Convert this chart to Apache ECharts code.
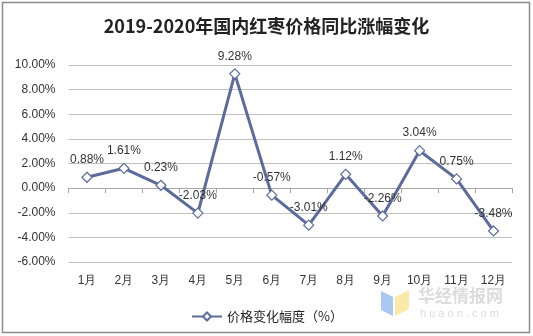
<!DOCTYPE html>
<html>
<head>
<meta charset="utf-8">
<script src="https://cdn.jsdelivr.net/npm/echarts@6/dist/echarts.min.js"></script>
<style>
  html, body { margin: 0; padding: 0; background: #fff; }
  #chart { width: 533px; height: 336px; }
</style>
</head>
<body>
<div id="chart"></div>
<script>
// Monthly year-on-year change of domestic jujube prices, 2019-2020 (%)
const months = ['1月', '2月', '3月', '4月', '5月', '6月', '7月', '8月', '9月', '10月', '11月', '12月'];
const priceChange = [0.88, 1.61, 0.23, -2.03, 9.28, -0.57, -3.01, 1.12, -2.26, 3.04, 0.75, -3.48];
const seriesName = '价格变化幅度（%）';
const titleText = '2019-2020年国内红枣价格同比涨幅变化';

const lineColor = '#5C6B9C';
const chart = echarts.init(document.getElementById('chart'), null, { renderer: 'canvas' });

chart.setOption({
  animation: false,
  backgroundColor: '#fff',
  title: {
    text: titleText,
    left: 'center',
    top: 12,
    textStyle: {
      fontFamily: '"Noto Sans CJK SC", sans-serif',
      fontSize: 18,
      fontWeight: 'bold',
      color: '#222'
    }
  },
  grid: { left: 68.5, right: 21, top: 65, bottom: 74 },
  legend: {
    left: 186,
    top: 305,
    itemWidth: 30,
    itemHeight: 10,
    itemGap: 4,
    textStyle: { fontFamily: '"Noto Sans CJK SC", sans-serif', fontSize: 13, color: '#222' },
    data: [seriesName]
  },
  xAxis: [
    {
      // category labels along the bottom edge
      type: 'category',
      data: months,
      position: 'bottom',
      axisLine: { show: false, onZero: false },
      axisTick: { show: false },
      axisLabel: { margin: 13, fontFamily: 'Liberation Sans, Arial, sans-serif', fontSize: 12, color: '#333' }
    },
    {
      // baseline with tick marks at the zero level
      type: 'category',
      data: months,
      position: 'bottom',
      axisLine: { show: true, onZero: true, lineStyle: { color: '#A6A6A6', width: 1 } },
      axisTick: { show: true, length: 5, lineStyle: { color: '#A6A6A6' } },
      axisLabel: { show: false }
    }
  ],
  yAxis: {
    type: 'value',
    min: -6,
    max: 10,
    interval: 2,
    axisLine: { show: false },
    axisTick: { show: false },
    splitLine: { lineStyle: { color: '#BFBFBF', width: 1 } },
    axisLabel: {
      margin: 13,
      fontFamily: 'Liberation Sans, Arial, sans-serif',
      fontSize: 12,
      color: '#333',
      formatter: v => v.toFixed(2) + '%'
    }
  },
  series: [{
    name: seriesName,
    type: 'line',
    xAxisIndex: 0,
    data: priceChange,
    symbol: 'diamond',
    symbolSize: 10,
    lineStyle: { color: lineColor, width: 3 },
    itemStyle: { color: '#fff', borderColor: lineColor, borderWidth: 1.2 },
    label: {
      show: true,
      position: 'top',
      distance: 6,
      fontFamily: 'Liberation Sans, Arial, sans-serif',
      fontSize: 12,
      color: '#333',
      formatter: p => p.value.toFixed(2) + '%'
    }
  }],
  graphic: [
    {
      type: 'rect',
      shape: { x: 2.5, y: 2.5, width: 527, height: 330 },
      style: { fill: 'none', stroke: '#8C8C8C', lineWidth: 1.5 },
      silent: true
    },
    {
      type: 'polygon',
      shape: { points: [[381, 291], [393, 297], [393, 316], [381, 310]] },
      style: { fill: '#A9C8F5' },
      silent: true
    },
    {
      type: 'polygon',
      shape: { points: [[395, 297], [409, 290], [409, 309], [395, 316]] },
      style: { fill: '#FBE9A8' },
      silent: true
    },
    {
      type: 'text',
      left: 418,
      top: 287,
      style: { text: '华经情报网', font: 'bold 17px "Noto Sans CJK SC", sans-serif', fill: '#DCDCDC' },
      silent: true
    },
    {
      type: 'text',
      left: 420,
      top: 308,
      style: { text: 'h u a o n . c o m', font: '11px "Liberation Sans", sans-serif', fill: '#DCDCDC' },
      silent: true
    }
  ]
});
</script>
</body>
</html>
